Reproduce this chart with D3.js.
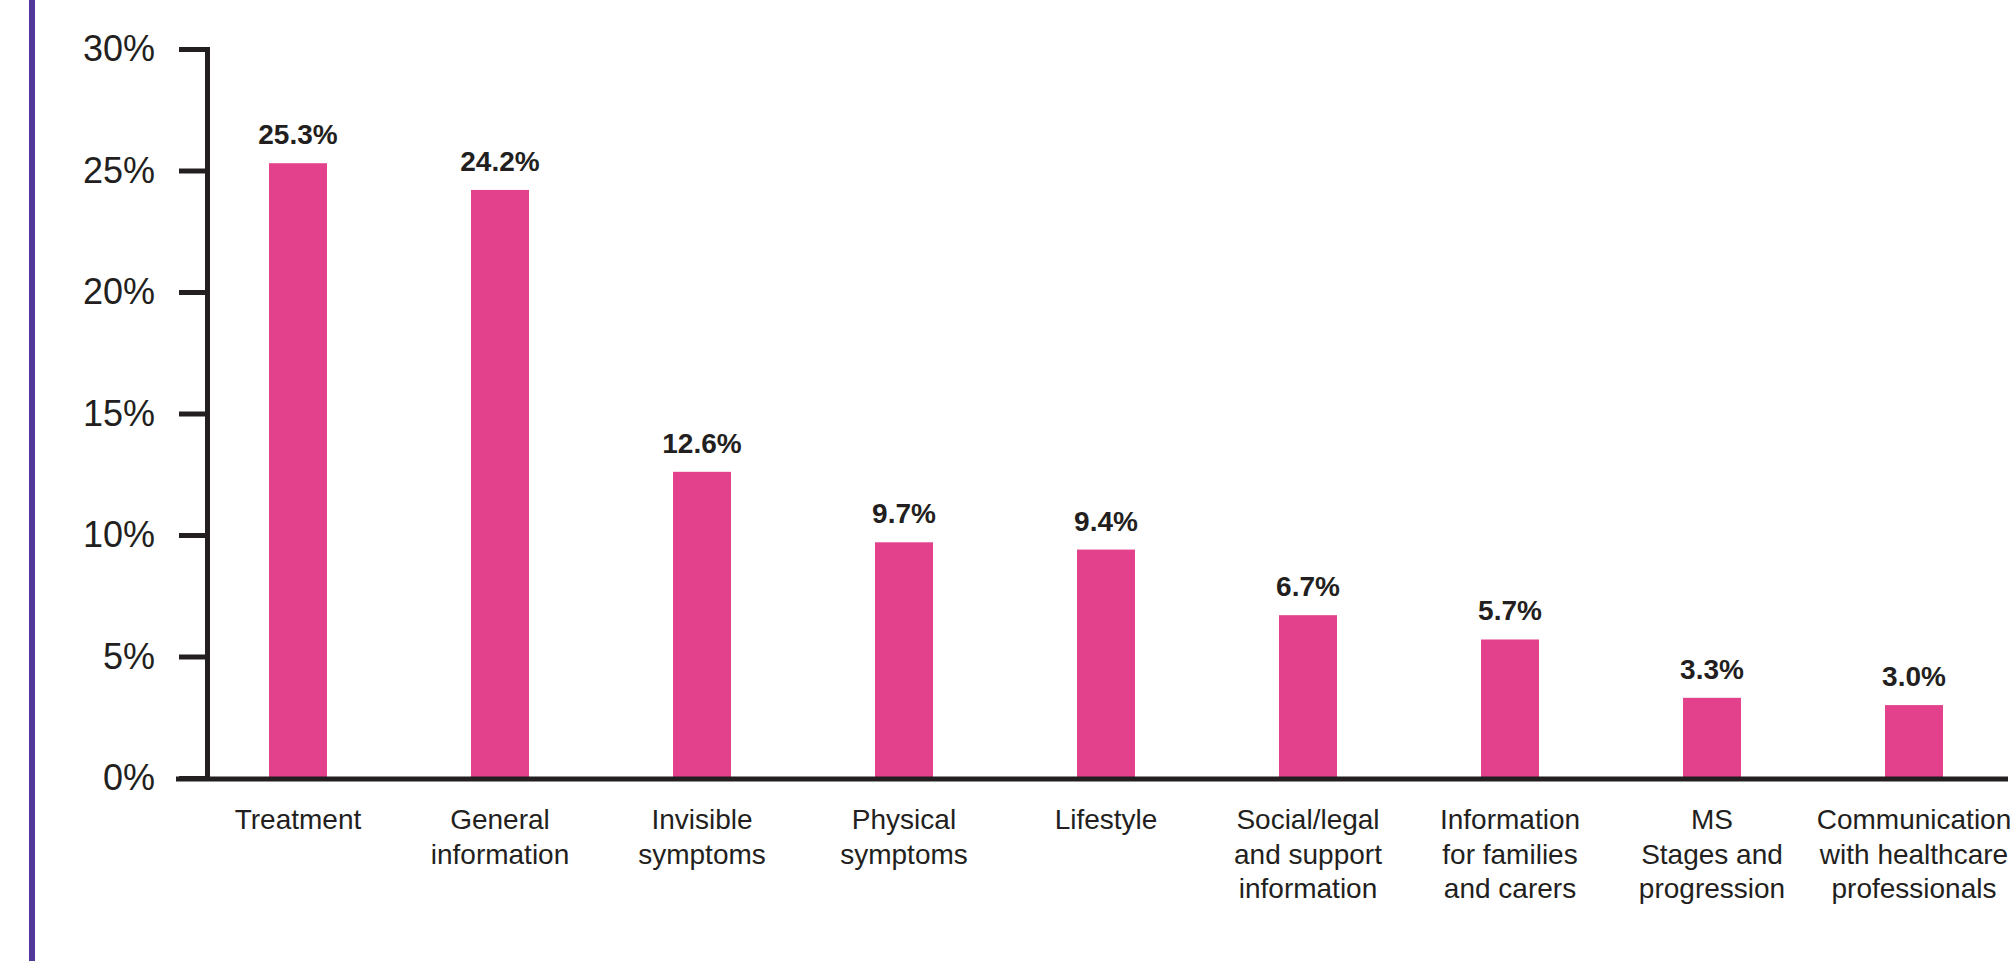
<!DOCTYPE html>
<html>
<head>
<meta charset="utf-8">
<script src="https://cdn.jsdelivr.net/npm/d3@7"></script>
<style>
  html, body { margin: 0; padding: 0; background: #ffffff; }
  svg { display: block; font-family: "Liberation Sans", Arial, Helvetica, sans-serif; }
</style>
</head>
<body>
<svg id="chart" width="2015" height="961"></svg>
<script>
// Topics of information requested (share of responses, %)
const categories = [
  "Treatment",
  "General information",
  "Invisible symptoms",
  "Physical symptoms",
  "Lifestyle",
  "Social/legal and support information",
  "Information for families and carers",
  "MS Stages and progression",
  "Communication with healthcare professionals"
];
const categoryLines = [
  ["Treatment"],
  ["General", "information"],
  ["Invisible", "symptoms"],
  ["Physical", "symptoms"],
  ["Lifestyle"],
  ["Social/legal", "and support", "information"],
  ["Information", "for families", "and carers"],
  ["MS", "Stages and", "progression"],
  ["Communication", "with healthcare", "professionals"]
];
const values = [25.3, 24.2, 12.6, 9.7, 9.4, 6.7, 5.7, 3.3, 3.0];
const yTicks = [0, 5, 10, 15, 20, 25, 30];

const ink = "#231f20";
const barColor = "#e3418c";
const accent = "#51399b";

const svg = d3.select("#chart");

// left accent rule
svg.append("rect")
  .attr("x", 29).attr("y", 0)
  .attr("width", 6).attr("height", 961)
  .attr("fill", accent);

const x = d3.scaleBand()
  .domain(categories)
  .range([197, 2015])
  .paddingInner(0.713)
  .paddingOuter(0.3565);

const y = d3.scaleLinear()
  .domain([0, 30])
  .range([778, 49]);

// y axis (outer ticks form the bracket ends)
const yAxis = d3.axisLeft(y)
  .tickValues(yTicks)
  .tickSize(28)
  .tickSizeOuter(28)
  .tickPadding(24)
  .tickFormat(d => d + "%");

const gy = svg.append("g")
  .attr("transform", "translate(207,0)")
  .call(yAxis);
gy.select(".domain").attr("stroke", ink).attr("stroke-width", 5).attr("fill", "none");
gy.selectAll(".tick line").attr("stroke", ink).attr("stroke-width", 5);
gy.selectAll(".tick text")
  .attr("fill", ink)
  .style("font-size", "36px")
  .style("font-family", "'Liberation Sans', Arial, sans-serif");

// bars
svg.append("g").selectAll("rect")
  .data(values)
  .join("rect")
  .attr("x", (d, i) => x(categories[i]))
  .attr("y", d => y(d))
  .attr("width", x.bandwidth())
  .attr("height", d => y(0) - y(d))
  .attr("fill", barColor);

// baseline
svg.append("line")
  .attr("x1", 176).attr("x2", 2008)
  .attr("y1", y(0) + 1).attr("y2", y(0) + 1)
  .attr("stroke", ink)
  .attr("stroke-width", 5);

// value labels
svg.append("g").selectAll("text")
  .data(values)
  .join("text")
  .attr("x", (d, i) => x(categories[i]) + x.bandwidth() / 2)
  .attr("y", d => y(d) - 19)
  .attr("text-anchor", "middle")
  .attr("fill", ink)
  .style("font-size", "28px")
  .style("font-weight", "bold")
  .text(d => d.toFixed(1) + "%");

// category labels
const cat = svg.append("g").selectAll("text")
  .data(categories)
  .join("text")
  .attr("x", d => x(d) + x.bandwidth() / 2)
  .attr("y", 829)
  .attr("text-anchor", "middle")
  .attr("fill", ink)
  .style("font-size", "28px");
cat.each(function(d, i) {
  const t = d3.select(this);
  categoryLines[i].forEach((line, j) => {
    t.append("tspan")
      .attr("x", x(d) + x.bandwidth() / 2)
      .attr("dy", j === 0 ? 0 : 34.5)
      .text(line);
  });
});
</script>
</body>
</html>
